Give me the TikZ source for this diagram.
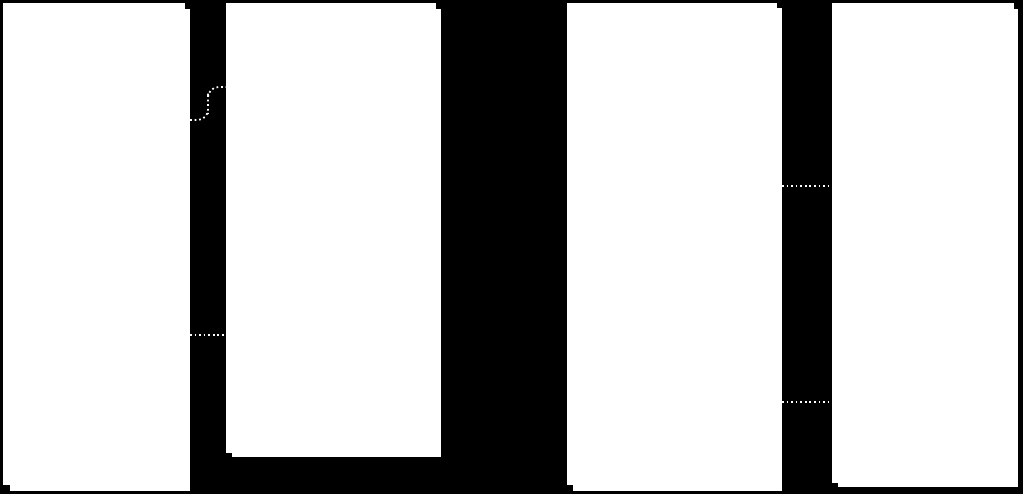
\documentclass[tikz,border=0pt]{standalone}
\usepackage{tikz}
\usetikzlibrary{positioning}
\usetikzlibrary{calc}
\tikzset{
    sheet/.style={fill=white,draw=none},
    linkdots/.style={draw=white,line width=1pt,dash pattern=on 1pt off 1.6pt},
}
\begin{document}
\begin{tikzpicture}[x=0.02cm,y=-0.02cm]
                    % background
                    \fill[black] (0,0) rectangle (1023,494);
                    % first sheet pair
                    \coordinate (nP1A1) at (3,3);    \coordinate (nP1A3) at (185,485);
                    \coordinate (nP1B1) at (10,9);   \coordinate (nP1B3) at (190,491);
                    \fill[sheet] (nP1B1) rectangle (nP1B3);
                    \fill[sheet] (nP1A1) rectangle (nP1A3);
                    % second sheet pair
                    \coordinate (nP2A1) at (226,3);  \coordinate (nP2A3) at (436,453);
                    \coordinate (nP2B1) at (232,9);  \coordinate (nP2B3) at (441,457);
                    \fill[sheet] (nP2B1) rectangle (nP2B3);
                    \fill[sheet] (nP2A1) rectangle (nP2A3);
                    % third sheet pair
                    \coordinate (nP3A1) at (567,3);  \coordinate (nP3A3) at (777,485);
                    \coordinate (nP3B1) at (573,8);  \coordinate (nP3B3) at (782,491);
                    \fill[sheet] (nP3B1) rectangle (nP3B3);
                    \fill[sheet] (nP3A1) rectangle (nP3A3);
                    % fourth sheet pair
                    \coordinate (nP4A1) at (832,3);  \coordinate (nP4A3) at (1014,483);
                    \coordinate (nP4B1) at (838,9);  \coordinate (nP4B3) at (1018,487);
                    \fill[sheet] (nP4B1) rectangle (nP4B3);
                    \fill[sheet] (nP4A1) rectangle (nP4A3);
                    % link ends
                    \coordinate (nL1s) at (nP1B3 |- 0,120);  \coordinate (nL1e) at (nP2A1 |- 0,87);
                    \coordinate (nL2s) at (nP1B3 |- 0,335);  \coordinate (nL2e) at (nP2A1 |- 0,335);
                    \coordinate (nL3s) at (nP3B3 |- 0,186);  \coordinate (nL3e) at (nP4A1 |- 0,186);
                    \coordinate (nL4s) at (nP3B3 |- 0,402);  \coordinate (nL4e) at (nP4A1 |- 0,402);
                    % dotted links between sheets
                    \draw[linkdots,rounded corners=6pt] (nL1s) -| ($(nL1s)!0.5!(nL1e)$) |- (nL1e);
                    \draw[linkdots] (nL2s) -- (nL2e);
                    \draw[linkdots] (nL3s) -- (nL3e);
                    \draw[linkdots] (nL4s) -- (nL4e);
                \end{tikzpicture}
\end{document}
